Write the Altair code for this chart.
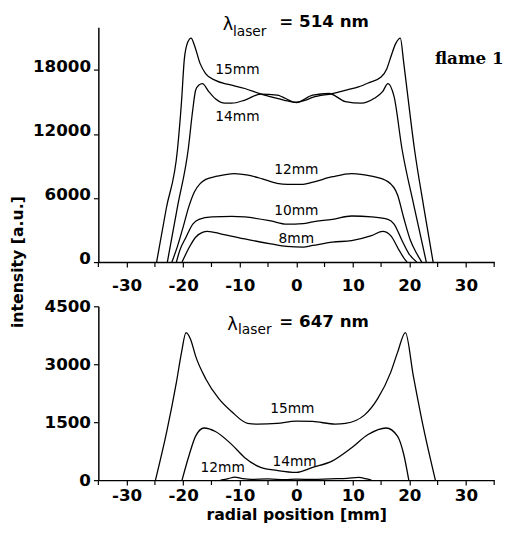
import altair as alt
import pandas as pd

FONT = "DejaVu Sans"

# ---------- data: lambda = 514 nm (top panel) ----------
t15_x = [-24.7, -23.0, -21.0, -20.3, -19.8, -19.2, -18.6, -18.0, -17.0, -16.0, -14.3, -12.0, -9.1, -6.2, -3.0, -1.5, 0.0, 1.5, 2.9, 6.4, 9.0, 11.0, 13.0, 15.0, 16.0, 16.7, 17.6, 18.4, 19.0, 19.6, 20.9, 22.5, 24.2]
t15_y = [0, 5000, 10600, 15000, 19000, 20600, 21000, 20300, 18600, 17650, 17030, 16650, 16270, 15740, 15300, 15100, 14980, 15150, 15440, 15800, 16150, 16420, 16850, 17340, 18100, 19200, 20500, 21000, 18700, 16100, 10600, 5300, 0]

t14_x = [-22.8, -21.0, -19.1, -18.3, -17.8, -17.2, -16.6, -15.5, -14.3, -12.6, -11.4, -9.1, -6.3, -3.4, 0.0, 2.9, 5.8, 8.7, 11.5, 13.8, 15.3, 16.2, 17.3, 18.7, 20.8, 23.0]
t14_y = [0, 5200, 10600, 14300, 16100, 16600, 16730, 16000, 15300, 14890, 14890, 15190, 15740, 15650, 14950, 15650, 15800, 15040, 14890, 15350, 16000, 16730, 15500, 10600, 5300, 0]

t12_x = [-22.0, -21.0, -20.0, -19.0, -18.0, -17.0, -16.0, -14.0, -11.0, -8.5, -6.0, -3.4, -1.5, 1.2, 3.0, 6.4, 9.8, 13.3, 16.2, 17.9, 19.0, 20.2, 21.3, 22.2]
t12_y = [0, 1500, 3300, 5200, 6600, 7350, 7750, 8050, 8300, 8150, 7800, 7380, 7290, 7290, 7500, 8000, 8300, 8050, 7540, 6310, 4160, 2020, 800, 0]

t10_x = [-21.2, -20.6, -19.5, -18.3, -17.2, -14.9, -11.4, -9.1, -4.5, -1.7, 1.2, 2.9, 6.4, 9.8, 13.3, 16.2, 17.3, 18.7, 19.9, 21.3]
t10_y = [0, 1100, 2330, 3560, 4010, 4230, 4290, 4230, 3860, 3560, 3610, 3770, 4010, 4320, 4230, 4010, 3560, 2020, 800, 0]

t8_x = [-20.2, -18.9, -17.8, -16.6, -15.7, -13.2, -9.1, -4.5, -1.7, 1.2, 2.9, 6.4, 9.8, 13.3, 15.3, 16.7, 18.2, 19.3, 19.6]
t8_y = [0, 1410, 2330, 2790, 2880, 2630, 2170, 1710, 1470, 1410, 1560, 1870, 2020, 2480, 2880, 2480, 1100, 180, 0]

# ---------- data: lambda = 647 nm (bottom panel) ----------
b15_x = [-24.9, -22.9, -21.2, -20.3, -19.5, -18.7, -17.8, -16.0, -13.7, -11.4, -8.6, -6.8, -3.4, 0.0, 2.9, 6.9, 8.7, 12.1, 14.4, 16.7, 17.9, 19.3, 20.7, 22.5, 24.6]
b15_y = [0, 1260, 2530, 3300, 3820, 3650, 3210, 2620, 2110, 1770, 1470, 1450, 1470, 1530, 1520, 1450, 1470, 1690, 2110, 2790, 3300, 3820, 2700, 1350, 0]

b14_x = [-20.2, -18.9, -17.8, -16.3, -14.3, -11.4, -9.1, -6.3, -3.4, 0.0, 2.9, 6.4, 9.8, 12.7, 15.9, 17.9, 19.0, 19.9]
b14_y = [0, 670, 1140, 1350, 1260, 920, 580, 330, 250, 200, 330, 500, 840, 1180, 1350, 1140, 670, 0]

b12_x = [-13.4, -12.0, -10.9, -9.5, -8.0, -5.0, -2.0, 0.0, 3.0, 6.0, 9.0, 11.0, 12.5, 13.3]
b12_y = [0, 40, 76, 40, 20, 30, 15, 25, 20, 35, 45, 70, 30, 0]

# ---------- labels ----------
top_lab_text = ["15mm", "14mm", "12mm", "10mm", "8mm"]
top_lab_x = [-10.4, -10.4, 0.0, 0.0, 0.0]
top_lab_y = [17960, 13610, 8640, 4780, 2200]

bot_lab_text = ["15mm", "14mm", "12mm"]
bot_lab_x = [-0.7, -0.3, -13.0]
bot_lab_y = [1835, 458, 313]

x_major = [-30, -20, -10, 0, 10, 20, 30]
x_minor = [-35, -25, -15, -5, 5, 15, 25, 35]
top_y_ticks = list(range(0, 21001, 3000))
bot_y_ticks = list(range(0, 4501, 750))

W = 403
H_TOP = 239
H_BOT = 177


def series_df(pairs):
    rows = []
    for name, xs, ys in pairs:
        for xv, yv in zip(xs, ys):
            rows.append({"series": name, "x": xv, "y": yv})
    return pd.DataFrame(rows)


top_df = series_df([("15mm", t15_x, t15_y), ("14mm", t14_x, t14_y), ("12mm", t12_x, t12_y),
                    ("10mm", t10_x, t10_y), ("8mm", t8_x, t8_y)])
bot_df = series_df([("15mm", b15_x, b15_y), ("14mm", b14_x, b14_y), ("12mm", b12_x, b12_y)])

XSCALE = alt.Scale(domain=[-35, 35], nice=False, zero=False)


def x_enc(label_pad, show_title):
    if show_title:
        kw = dict(title="radial position [mm]", titleFont=FONT, titleFontSize=16,
                  titleFontWeight="bold", titlePadding=3, titleColor="black")
    else:
        kw = dict(title=None)
    return alt.X("x:Q", scale=XSCALE,
                 axis=alt.Axis(values=x_major, labelOverlap=False, labelFlush=False,
                               labelExpr="replace(datum.label, '\u2212', '-')",
                               labelPadding=label_pad, **kw))


def y_enc(dom, ticks, step, loff):
    return alt.Y("y:Q", scale=alt.Scale(domain=dom, nice=False, zero=True),
                 axis=alt.Axis(values=ticks, title=None, labelOverlap=False, labelFlush=False,
                               labelExpr=f"datum.value % {step} == 0 ? '' + datum.value : ''",
                               labelPadding=3, labelOffset=loff))


def panel(df, lab_text, lab_x, lab_y, dom, ticks, step, height, label_pad, loff, show_title,
          title_parts):
    base = alt.Chart(df).mark_line(color="black", strokeWidth=1.3, interpolate="monotone", clip=False).encode(
        x=x_enc(label_pad, show_title), y=y_enc(dom, ticks, step, loff), detail="series:N")
    minor = alt.Chart(pd.DataFrame({"x": x_minor})).mark_rule(color="black", strokeWidth=1.2).encode(
        x=alt.X("x:Q", scale=XSCALE), y=alt.value(height), y2=alt.value(height + 5))
    lab = alt.Chart(pd.DataFrame({"x": lab_x, "y": lab_y, "t": lab_text})).mark_text(
        font=FONT, fontSize=14, color="black", baseline="middle", align="center").encode(
        x="x:Q", y="y:Q", text="t:N")
    layers = [base, minor, lab]
    for (tx, ty, tt, fsize, fweight, falign, ffont) in title_parts:
        layers.append(alt.Chart(pd.DataFrame({"x": [tx], "y": [ty], "t": [tt]})).mark_text(
            font=ffont, fontSize=fsize, fontWeight=fweight, color="black", baseline="middle",
            align=falign, clip=False).encode(x="x:Q", y="y:Q", text="t:N"))
    return alt.layer(*layers).properties(width=W, height=height)


top_title = [
    (-12.1, 22250, "λ", 18, "normal", "center", FONT),
    (-11.2, 21600, "laser", 14, "normal", "left", FONT),
    (-3.0, 22530, "= 514 nm", 17, "bold", "left", FONT),
    (30.6, 19030, "flame 1", 17, "bold", "center", "DejaVu Serif"),
]
bot_title = [
    (-11.3, 4016, "λ", 18, "normal", "center", FONT),
    (-10.3, 3890, "laser", 14, "normal", "left", FONT),
    (-3.0, 4080, "= 647 nm", 17, "bold", "left", FONT),
]

top = panel(top_df, top_lab_text, top_lab_x, top_lab_y, [0, 22000], top_y_ticks, 6000, H_TOP, 11, -4, False, top_title)
bot = panel(bot_df, bot_lab_text, bot_lab_x, bot_lab_y, [0, 4500], bot_y_ticks, 1500, H_BOT, 3, 0, True, bot_title)

ytitle = alt.Chart(pd.DataFrame({"t": ["intensity [a.u.]"]})).mark_text(
    angle=270, font=FONT, fontSize=16, fontWeight="bold", color="black",
    baseline="middle", align="center").encode(
    x=alt.value(10), y=alt.value(H_TOP), text="t:N").properties(width=20, height=H_TOP)

chart = alt.hconcat(ytitle, alt.vconcat(top, bot, spacing=4), spacing=4).properties(
    padding=0, background="white"
).configure_view(stroke=None).configure_axis(
    grid=False, domainColor="black", domainWidth=1.5, tickColor="black", tickWidth=1.2,
    tickSize=5, labelColor="black", labelFont=FONT, labelFontSize=17, labelFontWeight="bold"
)

chart.save("out.html", embed_options={"renderer": "svg", "actions": False})
